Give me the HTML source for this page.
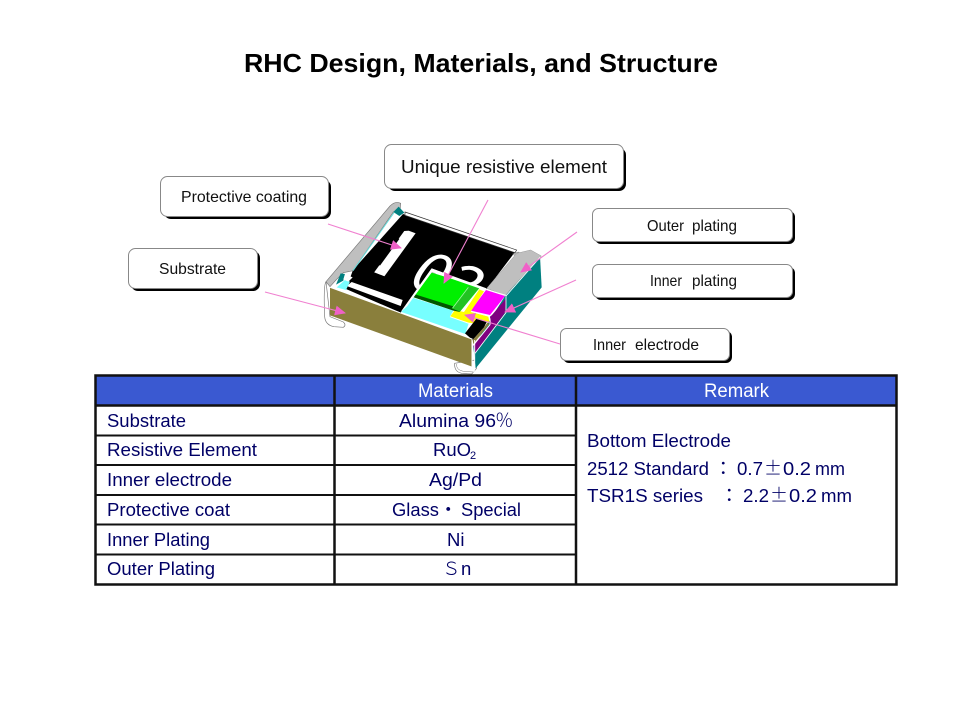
<!DOCTYPE html>
<html><head><meta charset="utf-8"><style>
html,body{margin:0;padding:0;background:#fff;width:960px;height:720px;overflow:hidden}
svg{display:block}
text{font-family:"Liberation Sans","Noto Sans CJK JP",sans-serif}
.n{fill:#000066;font-size:18.5px}
.w{fill:#fff;font-size:19px}
.b{fill:#111}
.c{font-family:"Noto Sans CJK JP",sans-serif}
</style></head><body>
<svg width="960" height="720" viewBox="0 0 960 720">
<text x="244" y="72" font-size="26" font-weight="bold" fill="#000" textLength="474" lengthAdjust="spacingAndGlyphs">RHC Design, Materials, and Structure</text>

<!-- callouts -->
<g fill="#000"><rect x="388" y="148" width="238" height="43" rx="7"/><rect x="164" y="180" width="167" height="39" rx="7"/><rect x="131" y="251" width="129" height="40" rx="7"/><rect x="595" y="211" width="200" height="33" rx="6"/><rect x="595" y="267" width="200" height="33" rx="6"/><rect x="563" y="331" width="169" height="32" rx="6"/></g>
<g fill="#fff" stroke="#888" stroke-width="1"><rect x="384.5" y="144.5" width="239" height="44" rx="7"/><rect x="160.5" y="176.5" width="168" height="40" rx="7"/><rect x="128.5" y="248.5" width="129" height="40" rx="7"/><rect x="592.5" y="208.5" width="200" height="33" rx="6"/><rect x="592.5" y="264.5" width="200" height="33" rx="6"/><rect x="560.5" y="328.5" width="169" height="32" rx="6"/></g>
<text class="b" x="401" y="173" font-size="18" textLength="206" lengthAdjust="spacingAndGlyphs">Unique resistive element</text>
<text class="b" x="181" y="202" font-size="16" textLength="126" lengthAdjust="spacingAndGlyphs">Protective coating</text>
<text class="b" x="159" y="274" font-size="16" textLength="67" lengthAdjust="spacingAndGlyphs">Substrate</text>
<text class="b" x="647" y="231" font-size="16" textLength="37" lengthAdjust="spacingAndGlyphs">Outer</text>
<text class="b" x="692" y="231" font-size="16" textLength="45" lengthAdjust="spacingAndGlyphs">plating</text>
<text class="b" x="650" y="286" font-size="16" textLength="32" lengthAdjust="spacingAndGlyphs">Inner</text>
<text class="b" x="692" y="286" font-size="16" textLength="45" lengthAdjust="spacingAndGlyphs">plating</text>
<text class="b" x="593" y="350" font-size="16" textLength="33" lengthAdjust="spacingAndGlyphs">Inner</text>
<text class="b" x="635" y="350" font-size="16" textLength="64" lengthAdjust="spacingAndGlyphs">electrode</text>

<!-- chip (coordinates in 3x space) -->
<defs><clipPath id="stem"><rect x="2" y="-100" width="18" height="100"/></clipPath></defs>
<g transform="translate(310 190) scale(.33333)">
  <!-- bottom wraps -->
  <path d="M48 275 Q40 285 44 380 Q46 405 72 410 L100 412 Q110 405 100 396 L60 380 Z" fill="#fff" stroke="#777" stroke-width="2"/>
  <path d="M434 520 Q432 545 455 550 L485 552 L500 535 L495 510 Z" fill="#fff" stroke="#777" stroke-width="2"/>
  <!-- teal side -->
  <polygon points="585,318 690,198 695,292 497,535 490,470" fill="#008080"/>
  <!-- top black -->
  <polygon points="279,72 615,186 530,298 365,235 272,368 108,297 129,240" fill="#000"/>
  <polygon points="285,66 620,180 615,188 285,76" fill="#fff" stroke="#333" stroke-width="2"/>
  <polygon points="607,192 625,186 642,195 632,208" fill="#bbb" stroke="#555" stroke-width="1"/>
  <!-- white strip and printed marking -->
  <polygon points="110,288 125,276 278,330 272,348" fill="#fff"/>
  <text class="c" transform="matrix(1.7 .65 -1.04 1.43 189 246)" clip-path="url(#stem)" x="-27" font-size="125" font-weight="bold" fill="#fff">1</text>
  <text class="c" transform="matrix(1.7 .65 -1.04 1.43 189 246)" x="56" font-size="100" fill="#fff">03</text>
  <!-- grey left band -->
  <path d="M48 275 L240 48 Q256 32 272 40 L270 64 L250 66 L129 242 L100 248 L78 270 L60 290 Z" fill="#bfbfbf" stroke="#777" stroke-width="2"/>
  <polygon points="250,66 266,50 283,68 268,78" fill="#008080"/>
  <path d="M129 242 L252 68" stroke="#6dd" stroke-width="3"/>
  <polygon points="78,284 92,250 105,252 100,272" fill="#008080"/>
  <polygon points="80,292 105,270 120,275 108,300" fill="#7ff"/>
  <polygon points="105,252 128,262 115,275 100,268" fill="#fff"/>
  <!-- grey right -->
  <path d="M530 295 L620 190 L662 180 L694 198 L585 316 Z" fill="#bfbfbf" stroke="#999" stroke-width="1.5"/>
  <path d="M588 318 L690 202" stroke="#fff" stroke-width="2.5"/>
  <!-- wedge -->
  <polygon points="272,366 365,235 378,250 305,322" fill="#bbb"/>
  <!-- cyan -->
  <polygon points="274,366 305,322 430,362 420,380 476,400 466,432" fill="#7ff"/>
  <!-- purple & magenta -->
  <path d="M588 325 L585 368 L495 490 L490 465 L540 405 L540 380 L546 375 Z" fill="#800080"/>
  <polygon points="528,300 585,318 540,375 482,362" fill="#f0f"/>
  <path d="M528 298 L588 316 L588 368 L495 490" fill="none" stroke="#fff" stroke-width="2.5"/>
  <!-- yellow -->
  <polygon points="508,298 522,304 482,365 535,380 538,395 510,402 475,398 420,380 435,360 462,366" fill="#ff0"/>
  <path d="M420 380 L476 400" fill="none" stroke="#fff" stroke-width="3"/>
  <path d="M484 365 L536 378 Q542 384 540 404 L490 466" fill="none" stroke="#fff" stroke-width="3"/>
  <!-- green -->
  <polygon points="365,248 510,292 450,365 305,320" fill="#00f000"/>
  <polygon points="305,320 430,362 450,366 440,352 312,312" fill="#005800"/>
  <polygon points="475,288 507,294 450,365 425,355" fill="#22c322"/>
  <path d="M475 292 L428 354" stroke="#9f9" stroke-width="2.5"/>
  <polygon points="365,235 530,295 525,301 366,246 292,348 272,366" fill="#fff"/>
  <!-- black block -->
  <polygon points="465,430 500,385 530,396 522,412 488,450" fill="#000"/>
  <polygon points="488,450 522,412 532,398 538,402 490,462" fill="#8a8040"/>
  <!-- front olive -->
  <polygon points="60,292 486,447 486,530 60,376" fill="#8a7f3c"/>
  <path d="M60 292 L486 447 L486 530" fill="none" stroke="#fff" stroke-width="3"/>
  <path d="M494 450 L494 540 Q490 550 470 548" fill="none" stroke="#fff" stroke-width="3"/>
  <path d="M440 522 Q438 540 460 544 L490 546" fill="none" stroke="#777" stroke-width="1.5"/>
</g>

<!-- arrows -->
<defs><marker id="a" markerWidth="11" markerHeight="10" refX="10" refY="5" orient="auto" markerUnits="userSpaceOnUse"><path d="M0 0 L11 5 L0 10 Z" fill="#f060c8"/></marker></defs>
<g stroke="#f080d0" stroke-width="1.1" fill="none">
<line x1="328" y1="224" x2="401" y2="248" marker-end="url(#a)"/>
<line x1="265" y1="292" x2="345" y2="313" marker-end="url(#a)"/>
<line x1="488" y1="200" x2="444" y2="283" marker-end="url(#a)"/>
<line x1="577" y1="232" x2="521" y2="272" marker-end="url(#a)"/>
<line x1="576" y1="280" x2="505" y2="312" marker-end="url(#a)"/>
<line x1="560" y1="344" x2="465" y2="315" marker-end="url(#a)"/>
</g>

<!-- table -->
<rect x="96" y="376" width="800" height="29" fill="#3a59d1"/>
<g stroke="#111" fill="none">
<rect x="95.5" y="375.5" width="801" height="209" stroke-width="2.5"/>
<path d="M334.5 375V585M576 375V585" stroke-width="2.5"/>
<path d="M95 405.5H897" stroke-width="2.5"/>
<path d="M95 435.5H576M95 465H576M95 495H576M95 524.5H576M95 554.5H576" stroke-width="2"/>
</g>
<text class="w" x="418" y="397" textLength="75" lengthAdjust="spacingAndGlyphs">Materials</text>
<text class="w" x="704" y="397" textLength="65" lengthAdjust="spacingAndGlyphs">Remark</text>

<text class="n" x="107" y="427" textLength="79" lengthAdjust="spacingAndGlyphs">Substrate</text>
<text class="n" x="107" y="456" textLength="150" lengthAdjust="spacingAndGlyphs">Resistive Element</text>
<text class="n" x="107" y="486" textLength="125" lengthAdjust="spacingAndGlyphs">Inner electrode</text>
<text class="n" x="107" y="516" textLength="123" lengthAdjust="spacingAndGlyphs">Protective coat</text>
<text class="n" x="107" y="546" textLength="103" lengthAdjust="spacingAndGlyphs">Inner Plating</text>
<text class="n" x="107" y="575" textLength="108" lengthAdjust="spacingAndGlyphs">Outer Plating</text>

<text class="n" x="399" y="427" textLength="97" lengthAdjust="spacingAndGlyphs">Alumina 96</text><text class="n c" x="495" y="427" font-weight="300">％</text>
<text class="n" x="433" y="456">RuO</text><text class="n" x="470" y="459" style="font-size:11px">2</text>
<text class="n" x="429" y="486" textLength="53" lengthAdjust="spacingAndGlyphs">Ag/Pd</text>
<text class="n" x="392" y="516" textLength="47" lengthAdjust="spacingAndGlyphs">Glass</text><text class="n" x="439" y="516">・</text><text class="n" x="461" y="516" textLength="60" lengthAdjust="spacingAndGlyphs">Special</text>
<text class="n" x="447" y="546">Ni</text>
<text class="n c" x="442" y="575" font-weight="300">Ｓ</text><text class="n" x="461" y="575">n</text>

<text class="n" x="587" y="447" textLength="144" lengthAdjust="spacingAndGlyphs">Bottom Electrode</text>
<text class="n" x="587" y="475" textLength="122" lengthAdjust="spacingAndGlyphs">2512 Standard</text><text class="n" x="714" y="475">：</text><text class="n" x="737" y="475" textLength="26" lengthAdjust="spacingAndGlyphs">0.7</text><text class="n c" x="764" y="475" textLength="18" lengthAdjust="spacingAndGlyphs" font-weight="300">±</text><text class="n" x="783" y="475" textLength="28" lengthAdjust="spacingAndGlyphs">0.2</text><text class="n" x="815" y="475" textLength="30" lengthAdjust="spacingAndGlyphs">mm</text>
<text class="n" x="587" y="502" textLength="116" lengthAdjust="spacingAndGlyphs">TSR1S series</text><text class="n" x="720" y="502">：</text><text class="n" x="743" y="502" textLength="26" lengthAdjust="spacingAndGlyphs">2.2</text><text class="n c" x="770" y="502" textLength="18" lengthAdjust="spacingAndGlyphs" font-weight="300">±</text><text class="n" x="789" y="502" textLength="28" lengthAdjust="spacingAndGlyphs">0.2</text><text class="n" x="821" y="502" textLength="31" lengthAdjust="spacingAndGlyphs">mm</text>
</svg>
</body></html>
